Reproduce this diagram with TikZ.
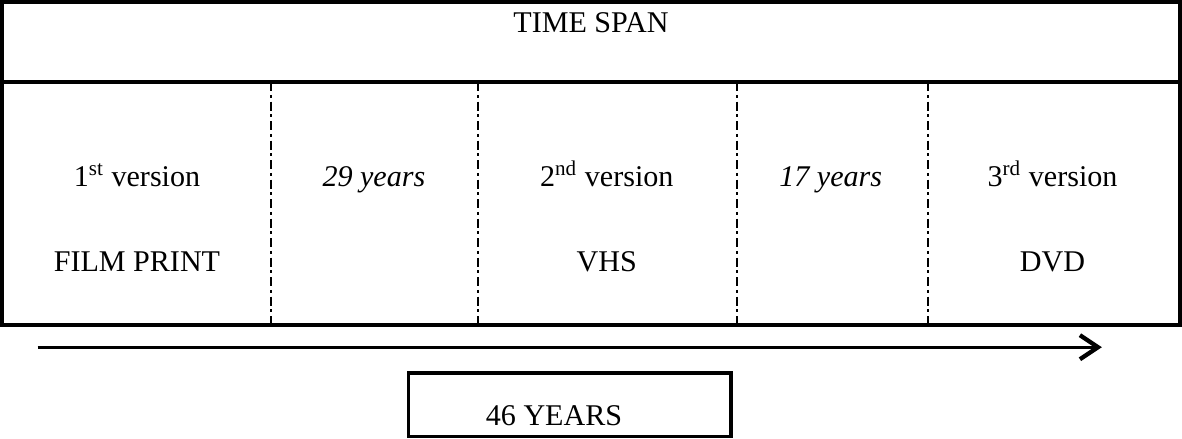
\documentclass[tikz,border=0pt]{standalone}
\usepackage{fontspec}
\setmainfont{Liberation Serif}
\usepackage{tikz}
\usetikzlibrary{arrows.meta, positioning}

\begin{document}
\begin{tikzpicture}[
    cell/.style={font=\fontsize{12.5}{15}\selectfont, anchor=base, inner sep=0pt},
    divider/.style={line width=0.95pt, dash pattern=on 3.7pt off 1.6pt on 1.2pt off 1.6pt}
]
    \useasboundingbox (0,0) rectangle (17.26,6.41);

    % Table
    \draw[line width=1.6pt] (0.03,1.66) rectangle (17.23,6.38);
    \draw[line width=1.8pt] (0.03,5.21) -- (17.23,5.21);
    \foreach \x in {3.96, 6.98, 10.76, 13.55}
        \draw[divider] (\x,5.21) -- (\x,1.66);

    % Header
    \node[cell] (span) at (8.63,5.93) {TIME SPAN};

    % Versions and gaps
    \node[cell] (first) at (2.00,3.69) {1\textsuperscript{st} version};
    \node[cell] (firstmedium) at (2.00,2.44) {FILM PRINT};
    \node[cell] (gapone) at (5.46,3.69) {\itshape 29 years};
    \node[cell] (second) at (8.86,3.69) {2\textsuperscript{nd} version};
    \node[cell] (secondmedium) at (8.86,2.44) {VHS};
    \node[cell] (gaptwo) at (12.13,3.69) {\itshape 17 years};
    \node[cell] (third) at (15.37,3.69) {3\textsuperscript{rd} version};
    \node[cell] (thirdmedium) at (15.37,2.44) {DVD};

    % Time arrow
    \coordinate (start) at (0.55,1.34);
    \coordinate (stop) at (16.09,1.34);
    \draw[line width=1.4pt, -{Straight Barb[length=7.5pt, width=10pt, line width=1.8pt]}] (start) -- (stop);

    % Total
    \node[draw, line width=1.35pt, minimum width=4.71cm, minimum height=0.93cm, inner sep=0pt] (total) at (8.32,0.50) {};
    \node[cell] (totaltext) at (8.09,0.20) {46 YEARS};
\end{tikzpicture}
\end{document}
